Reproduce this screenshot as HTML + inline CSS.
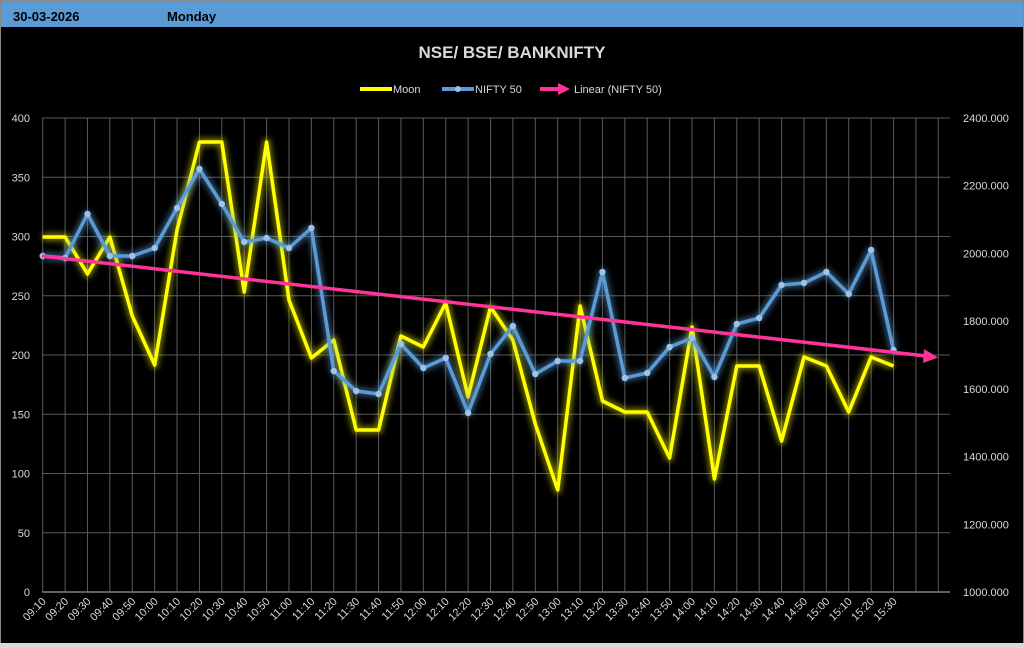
<!DOCTYPE html>
<html><head><meta charset="utf-8"><style>
body{margin:0;width:1024px;height:648px;background:#000;overflow:hidden;font-family:"Liberation Sans",sans-serif}
</style></head><body>
<svg id="s" width="1024" height="648" xmlns="http://www.w3.org/2000/svg" style="position:absolute;left:0;top:0">
<defs>
<filter id="gy" x="-10%" y="-10%" width="120%" height="120%"><feGaussianBlur stdDeviation="3"/></filter>
</defs>
<rect x="0" y="0" width="1024" height="648" fill="#000"/>
<rect x="0" y="0" width="1024" height="27" fill="#5b9bd5"/>
<rect x="0.5" y="0.5" width="1023" height="647" fill="none" stroke="#888"/>
<rect x="0" y="643" width="1024" height="5" fill="#d9d9d9"/>
<text x="13" y="21" font-size="13" font-weight="bold" fill="#000">30-03-2026</text>
<text x="167" y="21" font-size="13" font-weight="bold" fill="#000">Monday</text>
<text x="512" y="58" font-size="17" font-weight="bold" fill="#d9d9d9" text-anchor="middle">NSE/ BSE/ BANKNIFTY</text>
<line x1="360" y1="89" x2="392" y2="89" stroke="#ffff00" stroke-width="4"/>
<text x="393" y="93" font-size="11" fill="#d9d9d9">Moon</text>
<line x1="442" y1="89" x2="474" y2="89" stroke="#5b9bd5" stroke-width="4"/>
<circle cx="458" cy="89" r="3" fill="#9dc3e6"/>
<text x="475" y="93" font-size="11" fill="#d9d9d9">NIFTY 50</text>
<line x1="540" y1="89" x2="562" y2="89" stroke="#ff3399" stroke-width="4"/>
<polygon points="558,83 570,89 558,95" fill="#ff3399"/>
<text x="574" y="93" font-size="11" fill="#d9d9d9">Linear (NIFTY 50)</text>
<g id="grid"></g>
<g id="data"></g>
</svg>
<script>
var NS="http://www.w3.org/2000/svg";
function el(p,t,a,txt){var e=document.createElementNS(NS,t);for(var k in a)e.setAttribute(k,a[k]);if(txt!=null)e.textContent=txt;p.appendChild(e);return e;}
var g=document.getElementById("grid"),d=document.getElementById("data");
var x0=42.7,dx=22.39,yt=118,yb=592;
for(var i=0;i<=40;i++){var x=x0+i*dx;el(g,"line",{x1:x,y1:yt,x2:x,y2:yb,stroke:"#595959","stroke-width":1});}
for(var j=0;j<=8;j++){var y=yb-(yb-yt)*j/8;el(g,"line",{x1:42,y1:y,x2:950,y2:y,stroke:j==0?"#808080":"#595959","stroke-width":j==0?1.5:1});
el(g,"text",{x:30,y:y+4,"font-size":11,fill:"#d9d9d9","text-anchor":"end"},String(j*50));}
for(var j=0;j<=7;j++){var y=yb-(yb-yt)*j/7;el(g,"text",{x:963,y:y+4,"font-size":11,fill:"#d9d9d9"},(1000+j*200)+".000");}
var t=9*60+10;
for(var i=0;i<39;i++){var m=t+i*10;var lab=("0"+Math.floor(m/60)).slice(-2)+":"+("0"+m%60).slice(-2);var x=x0+i*dx;
el(g,"text",{x:x+4,y:yb+10,"font-size":11,fill:"#d9d9d9","text-anchor":"end",transform:"rotate(-45 "+(x+4)+" "+(yb+10)+")"},lab);}
var moon=[237,237,274,237,316,365,230,142,142,292,142,300,358,340,430,430,336,347,303,397,307,340,424,490,306,401,412,412,458,327,479,366,366,441,357,366,412,357,366];
var nif=[256,258,214,256,256,248,208,169,204,242,238,248,228,371,391,394,344,368,358,413,354,326,374,361,361,272,378,373,347,338,377,324,318,285,283,272,294,250,350];
function pts(a){return a.map(function(v,i){return (x0+i*dx).toFixed(1)+","+v}).join(" ");}
el(d,"polyline",{points:pts(moon),fill:"none",stroke:"#ffff00","stroke-width":8,"stroke-opacity":0.45,filter:"url(#gy)","stroke-linejoin":"round"});
el(d,"polyline",{points:pts(moon),fill:"none",stroke:"#ffff00","stroke-width":3.5,"stroke-linejoin":"round"});
el(d,"polyline",{points:pts(nif),fill:"none",stroke:"#5b9bd5","stroke-width":8,"stroke-opacity":0.5,filter:"url(#gy)","stroke-linejoin":"round"});
el(d,"polyline",{points:pts(nif),fill:"none",stroke:"#5b9bd5","stroke-width":3.5,"stroke-linejoin":"round"});
nif.forEach(function(v,i){el(d,"circle",{cx:x0+i*dx,cy:v,r:3.2,fill:"#9dc3e6"});});
el(d,"line",{x1:42,y1:256,x2:926,y2:356,stroke:"#ff3399","stroke-width":3.5});
el(d,"polygon",{points:"924,349 938,357.5 923,363",fill:"#ff3399"});
</script>
</body></html>
